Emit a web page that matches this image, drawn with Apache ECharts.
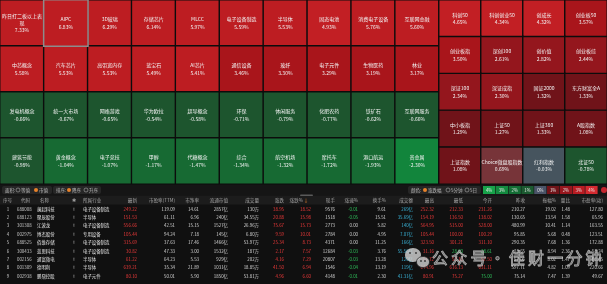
<!DOCTYPE html>
<html>
<head>
<meta charset="utf-8">
<script src="https://cdn.jsdelivr.net/npm/echarts@6/dist/echarts.min.js"></script>
<style>
html,body{margin:0;padding:0;background:#111;}
#chart{width:607px;height:284px;}
</style>
</head>
<body>
<div id="chart"></div>
<script>
// 板块 10列 x 4行
const sectorNames = [
  "昨日打二板以上表现", "AIPC", "3D玻璃", "存储芯片", "MLCC", "电子设备制造", "半导体", "固态电池", "消费电子设备", "互联网金融",
  "中芯概念", "汽车芯片", "高带宽内存", "蓝宝石", "AI芯片", "通信设备", "玻纤", "电子元件", "生物医药", "林业",
  "发电机概念", "统一大市场", "网络游戏", "华为欧拉", "超导概念", "环保", "休闲服务", "化肥农药", "铁矿石", "互联网服务",
  "建筑节能", "黄金概念", "电子竞技", "甲醇", "代糖概念", "综合", "航空机场", "摩托车", "港口航运", "贵金属"
];
const sectorPct = [
  7.33, 6.83, 6.29, 6.14, 5.97, 5.59, 5.53, 4.93, 5.76, 5.60,
  5.58, 5.53, 5.53, 5.49, 5.41, 3.46, 3.30, 3.29, 3.19, 3.17,
  -0.66, -0.67, -0.65, -0.54, -0.58, -0.71, -0.79, -0.77, -0.62, -0.66,
  -0.98, -1.04, -1.07, -1.17, -1.47, -1.34, -1.32, -1.72, -1.93, -2.30
];
// 指数 4列 x 5行
const indexNames = [
  "科创50", "科创创业50", "创成长", "创业板50",
  "创业板指", "深创100", "创价值", "创业板综",
  "深证100", "深证成指", "国证2000", "东方财富全A",
  "中小板指", "上证50", "上证380", "A股指数",
  "上证指数", "Choice微盘股指数", "红利指数", "北证50"
];
const indexPct = [
  4.65, 4.34, 4.32, 3.57,
  3.50, 2.61, 2.82, 2.44,
  2.34, 2.30, 1.32, 1.33,
  1.29, 1.27, 1.33, 1.08,
  1.08, 0.69, -0.03, -0.78
];
const selectedSector = "AIPC";

// 色阶图例
const legendLabels = ["4%", "3%", "2%", "1%", "0%", "1%", "2%", "3%", "4%"];

// 个股列表
const tableHeaders = ["序号", "代码", "名称", "✱", "所属行业", "最新", "市盈率(TTM)", "市净率", "流通市值", "成交量", "涨跌", "涨跌%",
  "现手", "涨速%", "换手%", "成交额", "最高", "最低", "今开", "昨收", "振幅%", "量比", "市盈率(动)"];
const stockCodes = ["688008", "688123", "301308", "002975", "688525", "300433", "002156", "001309", "002938"];
const stockNames = ["澜起科技", "聚辰股份", "江波龙", "博杰股份", "佰维存储", "蓝思科技", "通富微电", "德明利", "鹏鼎控股"];
const industries = ["电子设备制造", "半导体", "电子设备制造", "专用设备", "电子设备制造", "电子设备制造", "半导体", "半导体", "电子元件"];
const lastPrice = [249.22, 151.53, 556.66, 105.44, 315.69, 30.82, 61.22, 639.21, 80.10];
const peTTM = [119.09, 61.11, 42.51, 94.24, 37.63, 47.33, 64.23, 35.34, 50.01];
const pbRatio = [14.61, 6.96, 15.15, 7.18, 17.46, 3.00, 5.53, 21.89, 5.90];
const floatCap = ["2857亿", "240亿", "1527亿", "145亿", "1466亿", "1532亿", "929亿", "1031亿", "1850亿"];
const volume = ["130万", "34.55万", "26.96万", "6.80万", "53.97万", "187万", "202万", "18.85万", "53.81万"];
const change = [38.95, 20.88, 75.67, 9.59, 25.34, 2.17, 4.16, 41.50, 4.96];
const changePct = [18.52, 15.98, 15.73, 10.01, 8.73, 7.57, 7.29, 6.94, 6.60];
const curHand = [9576, 1518, 2773, 2784, 4371, 12684, 20807, 1546, 4148];
const speedPct = [-0.01, -0.05, 0.00, 0.00, 0.00, -0.03, -0.03, -0.04, -0.01];
const turnoverPct = [9.61, 15.51, 5.82, 4.95, 11.25, 3.76, 13.28, 13.19, 2.30];
const amount = ["269亿", "35.69亿", "140亿", "7.07亿", "166亿", "55.56亿", "120亿", "119亿", "41.31亿"];
const highPrice = [252.32, 154.19, 564.95, 105.44, 323.50, 31.16, 61.72, 644.96, 80.91];
const lowPrice = [212.33, 136.50, 515.00, 100.00, 301.21, 28.60, 57.16, 616.13, 75.27];
const openPrice = [231.26, 138.02, 528.00, 100.29, 311.10, 28.61, 57.50, 631.11, 75.00];
const prevClose = [210.27, 130.65, 480.99, 95.85, 290.35, 28.65, 57.06, 597.71, 75.14];
const amplitude = [19.02, 13.54, 10.41, 5.68, 7.68, 8.94, 8.02, 4.82, 7.47];
const volRatio = [1.48, 1.58, 1.14, 0.48, 1.36, 2.36, 1.47, 1.09, 1.39];
const peDyn = [127.80, 65.96, 163.55, 123.51, 172.88, 58.24, 93.45, 220.66, 49.67];

const FONT = '"Noto Sans CJK SC", "Noto Sans", sans-serif';
const RED = "#f03a3a", GREEN = "#2fc25b", WHITE = "#d4d4d4";

var chart = echarts.init(document.getElementById("chart"));

function cellData(names, pcts, cols) {
  let out = [];
  let last = null;
  names.forEach(function (n, i) {
    let item = { name: n, value: [i % cols, Math.floor(i / cols), pcts[i]] };
    if (n === selectedSector) {
      item.itemStyle = { borderColor: "#8c8c8c", borderWidth: 1.5 };
      last = item;
    } else {
      out.push(item);
    }
  });
  if (last) out.push(last);
  return out;
}

function catList(n) {
  let a = [];
  for (let i = 0; i < n; i++) a.push(String(i));
  return a;
}

let cellLabel = {
  show: true,
  color: "#f2f2f2",
  fontSize: 5,
  lineHeight: 7.4,
  fontFamily: FONT,
  width: 43,
  overflow: "break",
  formatter: function (p) {
    return p.name + "\n" + p.value[2].toFixed(2) + "%";
  }
};

// ---------- 表格 ----------
let g = [];
function txt(x, y, s, color, align, size) {
  return {
    type: "text", x: x, y: y, silent: true, z: 10,
    style: {
      text: s, fill: color, font: size + "px " + FONT,
      align: align, verticalAlign: "middle",
      textAlign: align, textVerticalAlign: "middle"
    }
  };
}
function box(x, y, w, h, fill, r) {
  return { type: "rect", silent: true, z: 5, shape: { x: x, y: y, width: w, height: h, r: r || 0 }, style: { fill: fill } };
}
function dot(cx, cy, r, fill, stroke) {
  return { type: "circle", silent: true, z: 11, shape: { cx: cx, cy: cy, r: r }, style: { fill: fill, stroke: stroke || null, lineWidth: 0.6 } };
}

// 背景条
g.push(box(0, 184, 607, 100, "#101010"));
g.push(box(0, 185, 607, 10, "#151515"));
g.push(box(0, 195.5, 607, 9, "#1c1c1c"));
g.push(box(300, 194.5, 13, 1.6, "#5a5a5a", 0.8));

// 左侧按钮
g.push(box(2, 186, 50, 8, "#262626", 2));
g.push(box(53, 186, 48, 8, "#262626", 2));
g.push(txt(5, 190, "面积:", "#bdbdbd", "left", 4.5));
g.push(dot(18, 190, 2, "none", "#aaa"));
g.push(txt(21, 190, "等值", "#bdbdbd", "left", 4.5));
g.push(dot(36, 190, 2, "#e8822a"));
g.push(txt(39, 190, "市值", "#bdbdbd", "left", 4.5));
g.push(txt(56, 190, "排序:", "#bdbdbd", "left", 4.5));
g.push(dot(69, 190, 2, "#e8822a"));
g.push(txt(72, 190, "降序", "#bdbdbd", "left", 4.5));
g.push(dot(86, 190, 2, "none", "#aaa"));
g.push(txt(89, 190, "升序", "#bdbdbd", "left", 4.5));

// 右侧按钮与色阶
g.push(box(408, 186, 73, 8, "#262626", 2));
g.push(txt(411, 190, "颜色:", "#bdbdbd", "left", 4.5));
g.push(dot(425, 190, 2, "#e8822a"));
g.push(txt(428, 190, "涨跌幅", "#bdbdbd", "left", 4.5));
g.push(dot(448, 190, 2, "none", "#aaa"));
g.push(txt(451, 190, "5分钟", "#bdbdbd", "left", 4.5));
g.push(dot(467, 190, 2, "none", "#aaa"));
g.push(txt(470, 190, "5日", "#bdbdbd", "left", 4.5));
const legendFill = ["#17a34a", "#138a3f", "#146e35", "#1b5a30", "#4a5468", "#701419", "#98171e", "#b81c22", "#d42a30"];
legendLabels.forEach(function (t, i) {
  let x0 = 483 + i * 12.8;
  g.push(box(x0, 186, 12.2, 8, legendFill[i]));
  g.push(txt(x0 + 6.1, 190, t, "#e6e6e6", "center", 4.3));
});
g.push(dot(604, 190, 3, "#c4262e"));

// 列布局
const headX = [3, 21, 40, 74, 83, 137, 175, 199, 228, 259, 284, 303, 335, 358, 386, 413, 434, 463, 492, 525, 556, 570, 603];
const headAlign = ["left", "left", "left", "center", "left"];
const cellX = [8, 17, 37, 74, 83, 137, 175, 199, 228, 259, 284, 311, 335, 358, 386, 413, 434, 463, 492, 525, 556, 570, 603];
const cellAlign = ["center", "left", "left", "center", "left"];

tableHeaders.forEach(function (h, c) {
  g.push(txt(headX[c], 200, h, "#a3a3a3", headAlign[c] || "right", 4.6));
});
g.push(txt(306, 200, "↓", "#e8822a", "center", 5));

function sgnColor(v) { return v > 0 ? RED : (v < 0 ? GREEN : WHITE); }

stockCodes.forEach(function (code, i) {
  let y = 209 + i * 8.4;
  let pc = prevClose[i];
  let cells = [
    [String(i + 1), "#c8c8c8"],
    [code, "#c8c8c8"],
    [stockNames[i], "#e6e6e6"],
    ["!", "#e6e6e6"],
    [industries[i], "#e6e6e6"],
    [lastPrice[i].toFixed(2), sgnColor(lastPrice[i] - pc)],
    [peTTM[i].toFixed(2), WHITE],
    [pbRatio[i].toFixed(2), WHITE],
    [floatCap[i], WHITE],
    [volume[i], WHITE],
    [change[i].toFixed(2), sgnColor(change[i])],
    [changePct[i].toFixed(2), sgnColor(changePct[i])],
    [String(curHand[i]), WHITE],
    [speedPct[i].toFixed(2), sgnColor(speedPct[i])],
    [turnoverPct[i].toFixed(2), WHITE],
    [amount[i], "#3ab4d9"],
    [highPrice[i].toFixed(2), sgnColor(highPrice[i] - pc)],
    [lowPrice[i].toFixed(2), sgnColor(lowPrice[i] - pc)],
    [openPrice[i].toFixed(2), sgnColor(openPrice[i] - pc)],
    [pc.toFixed(2), WHITE],
    [amplitude[i].toFixed(2), WHITE],
    [volRatio[i].toFixed(2), WHITE],
    [peDyn[i].toFixed(2), WHITE]
  ];
  cells.forEach(function (cl, c) {
    g.push(txt(cellX[c], y, cl[0], cl[1], cellAlign[c] || "right", 4.4));
  });
});

// 水印
const wmChars = ["公", "众", "号", "·", "佳", "财", "一", "分", "钟"];
wmChars.forEach(function (ch, i) {
  let t = txt(440 + i * 19.2, 258, ch, "rgba(150,150,150,0.45)", "center", 16);
  t.z = 20;
  t.style.stroke = "rgba(235,235,235,0.75)";
  t.style.lineWidth = 0.8;
  g.push(t);
});
g.push({ type: "ellipse", silent: true, z: 20, shape: { cx: 413, cy: 255, rx: 8, ry: 7 }, style: { fill: "rgba(215,215,215,0.8)" } });
g.push({ type: "ellipse", silent: true, z: 21, shape: { cx: 423, cy: 262, rx: 6.5, ry: 5.5 }, style: { fill: "rgba(200,200,200,0.85)", stroke: "#222", lineWidth: 0.8 } });
[[410, 253], [416, 253], [421, 261], [425, 261]].forEach(function (p) {
  let d = dot(p[0], p[1], 0.9, "#333");
  d.z = 22;
  g.push(d);
});

let options = {
  backgroundColor: "#111",
  animation: false,
  graphic: { elements: g },
  grid: [
    { left: 0, top: 0, width: 439, height: 184 },
    { left: 439, top: 0, width: 168, height: 184 }
  ],
  xAxis: [
    { type: "category", gridIndex: 0, data: catList(10), show: false },
    { type: "category", gridIndex: 1, data: catList(4), show: false }
  ],
  yAxis: [
    { type: "category", gridIndex: 0, data: catList(4), inverse: true, show: false },
    { type: "category", gridIndex: 1, data: catList(5), inverse: true, show: false }
  ],
  visualMap: {
    type: "piecewise",
    show: false,
    dimension: 2,
    seriesIndex: [0, 1],
    pieces: [
      { gte: 5, color: "#bd1d22" },
      { gte: 4, lt: 5, color: "#c21f24" },
      { gte: 3, lt: 4, color: "#a9151b" },
      { gte: 2, lt: 3, color: "#94161d" },
      { gte: 1, lt: 2, color: "#701319" },
      { gte: 0.05, lt: 1, color: "#773439" },
      { gte: -0.05, lt: 0.05, color: "#46545e" },
      { gte: -1, lt: -0.05, color: "#1d552e" },
      { gte: -2, lt: -1, color: "#176a33" },
      { lt: -2, color: "#12853c" }
    ]
  },
  series: [
    {
      type: "heatmap",
      xAxisIndex: 0,
      yAxisIndex: 0,
      data: cellData(sectorNames, sectorPct, 10),
      label: cellLabel,
      itemStyle: { borderColor: "#0c0c0c", borderWidth: 1.4 },
      emphasis: { disabled: true }
    },
    {
      type: "heatmap",
      xAxisIndex: 1,
      yAxisIndex: 1,
      data: cellData(indexNames, indexPct, 4),
      label: cellLabel,
      itemStyle: { borderColor: "#0c0c0c", borderWidth: 1.4 },
      emphasis: { disabled: true }
    }
  ]
};
chart.setOption(options);
</script>
</body>
</html>
